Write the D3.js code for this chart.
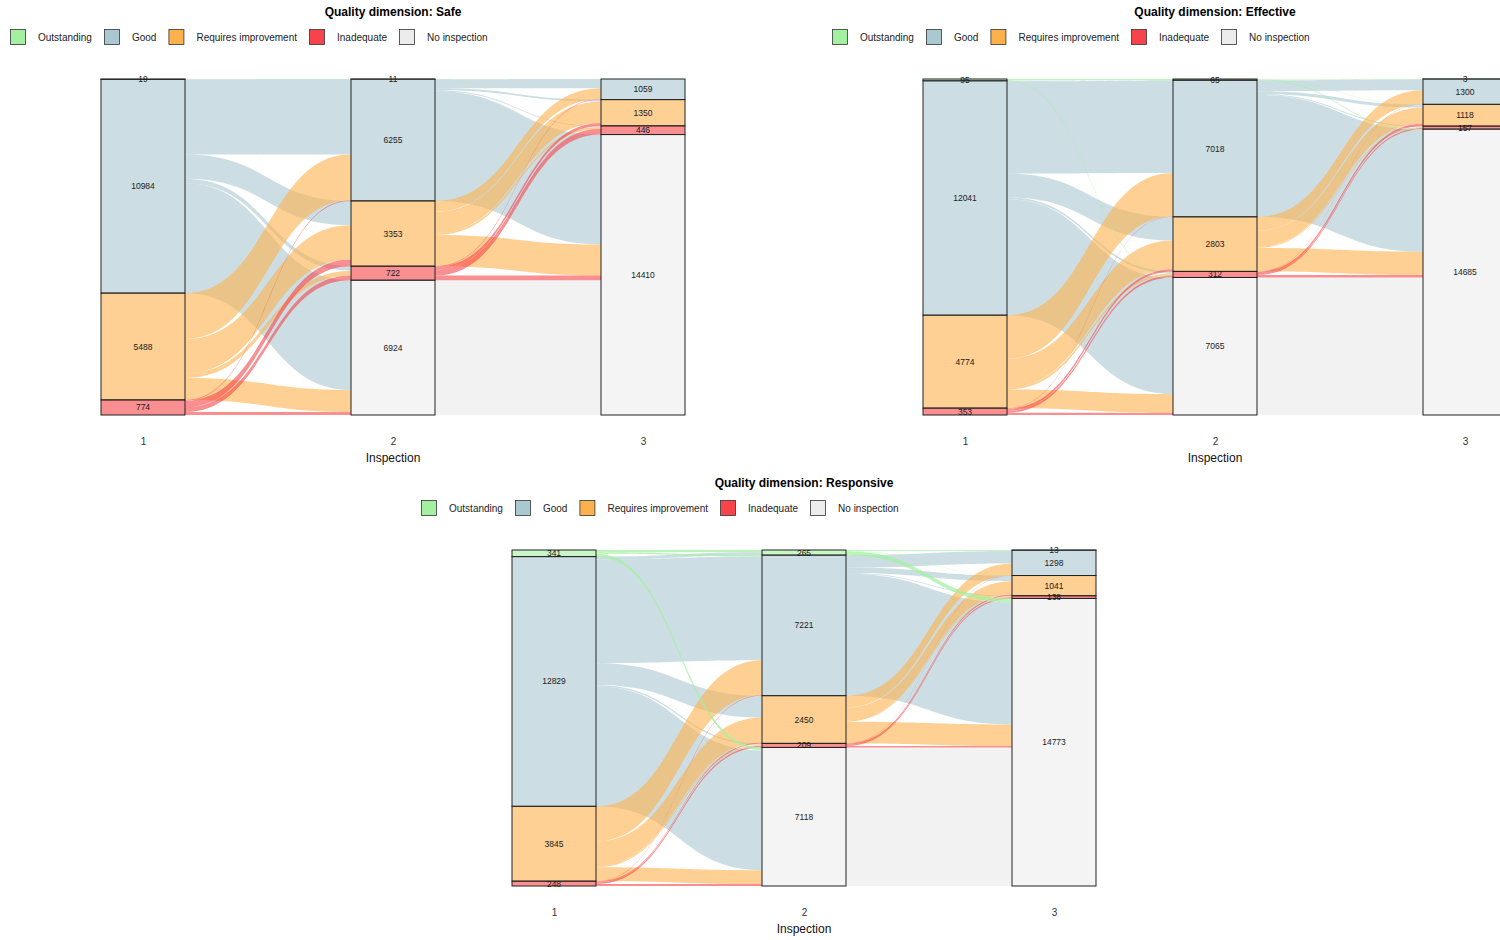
<!DOCTYPE html>
<html>
<head>
<meta charset="utf-8">
<script src="https://cdn.jsdelivr.net/npm/d3@7"></script>
<style>
  body { margin: 0; background: #fff; }
  svg { display: block; font-family: "Liberation Sans", Arial, Helvetica, sans-serif; }
</style>
</head>
<body>
<svg id="chart" width="1500" height="940"></svg>
<script>
// Rating categories, in stacking order from top to bottom
const categories = ["Outstanding", "Good", "Requires improvement", "Inadequate", "No inspection"];
const inspections = ["1", "2", "3"];
const colours = ["#a3f0a0", "#aac8d0", "#fdb14d", "#f7444a", "#ececec"];

// Location counts moving between ratings.
// Rows: rating at the earlier inspection; columns: rating at the next one.
const safeFlows12 = [
  [4, 8, 2, 0, 5],
  [7, 3855, 1250, 230, 5642],
  [0, 2352, 1761, 250, 1125],
  [0, 40, 340, 242, 152],
  [0, 0, 0, 0, 0]
];
const safeFlows23 = [
  [0, 6, 0, 0, 5],
  [0, 470, 100, 45, 5640],
  [0, 553, 1100, 100, 1600],
  [0, 30, 150, 301, 241],
  [0, 0, 0, 0, 6924]
];
const effectiveFlows12 = [
  [45, 20, 0, 0, 30],
  [20, 4748, 1210, 100, 5963],
  [0, 2230, 1480, 110, 954],
  [0, 20, 113, 102, 118],
  [0, 0, 0, 0, 0]
];
const effectiveFlows23 = [
  [3, 20, 12, 0, 30],
  [0, 560, 150, 46, 6262],
  [0, 705, 840, 53, 1205],
  [0, 15, 116, 58, 123],
  [0, 0, 0, 0, 7065]
];
const responsiveFlows12 = [
  [120, 70, 5, 0, 146],
  [145, 5331, 1120, 70, 6163],
  [0, 1800, 1275, 59, 711],
  [0, 20, 50, 80, 98],
  [0, 0, 0, 0, 0]
];
const responsiveFlows23 = [
  [13, 40, 12, 0, 200],
  [0, 640, 281, 30, 6270],
  [0, 608, 677, 50, 1115],
  [0, 10, 71, 58, 70],
  [0, 0, 0, 0, 7118]
];

const panelTitles = ["Quality dimension: Safe", "Quality dimension: Effective", "Quality dimension: Responsive"];
const panelFlows = [
  [safeFlows12, safeFlows23],
  [effectiveFlows12, effectiveFlows23],
  [responsiveFlows12, responsiveFlows23]
];

// Panel placement on the page
const panelOffsets = [[0, 0], [822, 0], [411, 471]];

// Painting order of flows by source rating (Outstanding ribbons end up on top)
const paintOrder = [1, 4, 2, 3, 0];

const svg = d3.select("#chart");
const color = d3.scaleOrdinal().domain(categories).range(colours);

const stratumWidth = 84;
const plotTop = 79, plotBottom = 415;

function ribbon(x0, x1, a0, b0, a1, b1) {
  const xm = (x0 + x1) / 2;
  return `M${x0},${a0}C${xm},${a0} ${xm},${a1} ${x1},${a1}` +
         `L${x1},${b1}C${xm},${b1} ${xm},${b0} ${x0},${b0}Z`;
}

function drawPanel(idx) {
  const [dx, dy] = panelOffsets[idx];
  const flows = panelFlows[idx];
  const g = svg.append("g").attr("transform", `translate(${dx},${dy})`);

  // stratum sizes at each inspection
  const strata = [
    flows[0].map(r => d3.sum(r)),
    categories.map((c, j) => d3.sum(flows[0], r => r[j])),
    categories.map((c, j) => d3.sum(flows[1], r => r[j]))
  ];
  const total = d3.sum(strata[0]);

  const x = d3.scalePoint().domain(inspections).range([143, 643]);
  const y = d3.scaleLinear().domain([0, total]).range([plotTop, plotBottom]);

  // cumulative start of each stratum
  const starts = strata.map(s => {
    let acc = 0;
    return s.map(v => { const st = acc; acc += v; return st; });
  });

  // flows between neighbouring inspections
  const flowLayer = g.append("g");
  flows.forEach((m, k) => {
    const xL = x(inspections[k]) + stratumWidth / 2;
    const xR = x(inspections[k + 1]) - stratumWidth / 2;
    const outOff = starts[k].slice();
    const inOff = starts[k + 1].slice();
    const pieces = [];
    // outgoing: within each source stratum ordered by destination
    m.forEach((row, i) => row.forEach((v, j) => {
      if (v <= 0) return;
      pieces.push({ i, j, v, a0: outOff[i] });
      outOff[i] += v;
    }));
    // incoming: within each destination stratum ordered by source
    for (let j = 0; j < categories.length; j++) {
      for (let i = 0; i < categories.length; i++) {
        const p = pieces.find(q => q.i === i && q.j === j);
        if (!p) continue;
        p.a1 = inOff[j];
        inOff[j] += p.v;
      }
    }
    pieces.sort((p, q) => paintOrder.indexOf(p.i) - paintOrder.indexOf(q.i));
    flowLayer.selectAll(null)
      .data(pieces)
      .join("path")
      .attr("d", p => ribbon(xL, xR, y(p.a0), y(p.a0 + p.v), y(p.a1), y(p.a1 + p.v)))
      .attr("fill", p => color(categories[p.i]))
      .attr("fill-opacity", p => p.i === 4 ? 0.7 : (p.i === 0 ? 0.75 : 0.6))
      .attr("stroke", "none");
  });

  // strata
  const strataLayer = g.append("g");
  strata.forEach((s, k) => {
    const cells = s.map((v, i) => ({ v, i, st: starts[k][i] })).filter(d => d.v > 0);
    const cx = x(inspections[k]);
    strataLayer.selectAll(null)
      .data(cells)
      .join("rect")
      .attr("x", cx - stratumWidth / 2)
      .attr("y", d => y(d.st))
      .attr("width", stratumWidth)
      .attr("height", d => y(d.st + d.v) - y(d.st))
      .attr("fill", d => color(categories[d.i]))
      .attr("fill-opacity", 0.6)
      .attr("stroke", "#222")
      .attr("stroke-width", 1);
    strataLayer.selectAll(null)
      .data(cells)
      .join("text")
      .attr("x", cx)
      .attr("y", d => y(d.st + d.v / 2))
      .attr("dy", "0.35em")
      .attr("text-anchor", "middle")
      .attr("font-size", 8.5)
      .attr("fill", "#1a1a1a")
      .text(d => d.v);
  });

  // inspection axis
  const axis = g.append("g")
    .attr("transform", `translate(0,${plotBottom + 20})`)
    .call(d3.axisBottom(x).tickSize(0).tickPadding(3));
  axis.select(".domain").remove();
  axis.selectAll("text").attr("font-size", 10).attr("fill", "#333")
    .attr("font-family", "Liberation Sans, Arial, sans-serif");

  g.append("text")
    .attr("x", 393).attr("y", plotBottom + 47)
    .attr("text-anchor", "middle")
    .attr("font-size", 12).attr("fill", "#111")
    .text("Inspection");

  // title
  g.append("text")
    .attr("x", 393).attr("y", 16)
    .attr("text-anchor", "middle")
    .attr("font-size", 12).attr("font-weight", "bold").attr("fill", "#000")
    .text(panelTitles[idx]);

  // legend
  const legend = g.append("g").attr("transform", "translate(10,37)");
  let lx = 0;
  categories.forEach((c, i) => {
    const item = legend.append("g").attr("transform", `translate(${lx},0)`);
    item.append("rect")
      .attr("x", 0.5).attr("y", -7.5).attr("width", 15).attr("height", 15)
      .attr("fill", colours[i]).attr("stroke", "#333").attr("stroke-width", 0.8);
    const t = item.append("text")
      .attr("x", 28).attr("dy", "0.35em")
      .attr("font-size", 10).attr("fill", "#222")
      .text(c);
    lx += 28 + t.node().getComputedTextLength() + 12;
  });
}

[0, 1, 2].forEach(drawPanel);
</script>
</body>
</html>
